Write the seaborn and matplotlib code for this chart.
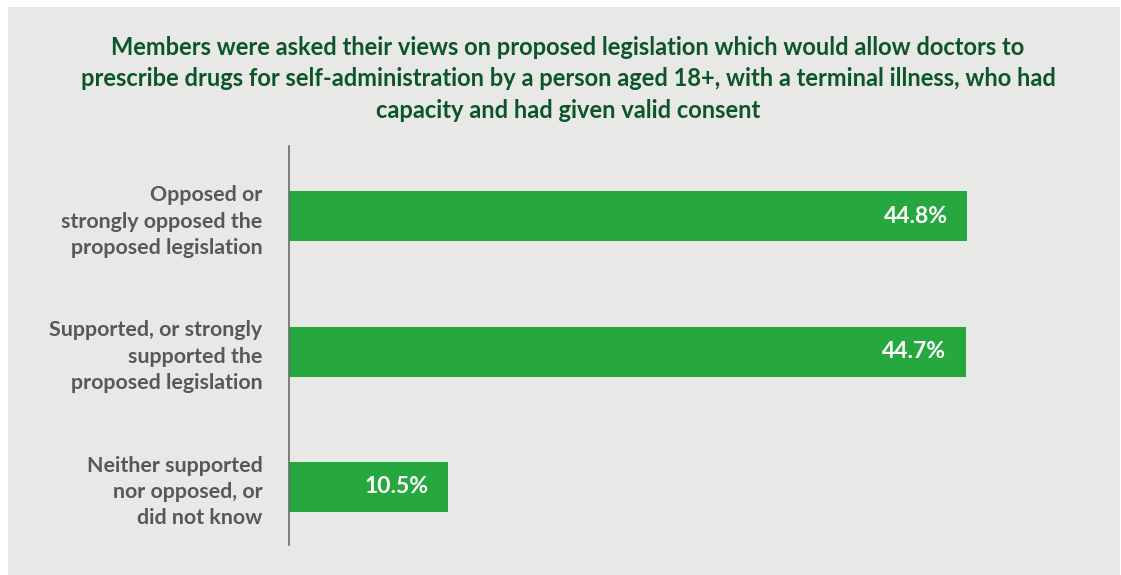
import matplotlib
matplotlib.use("Agg")
import matplotlib.pyplot as plt
from matplotlib.patches import Rectangle
import seaborn as sns
import pandas as pd

# Survey responses
categories = [
    "Opposed or\nstrongly opposed the\nproposed legislation",
    "Supported, or strongly\nsupported the\nproposed legislation",
    "Neither supported\nnor opposed, or\ndid not know",
]
shares = [44.8, 44.7, 10.5]
value_labels = ["44.8%", "44.7%", "10.5%"]

title = ("Members were asked their views on proposed legislation which would allow doctors to\n"
         "prescribe drugs for self-administration by a person aged 18+, with a terminal illness, who had\n"
         "capacity and had given valid consent")

BG = "#e8e8e6"
BAR = "#27a83e"
TITLE_C = "#0b5528"
LABEL_C = "#585858"

sns.set_theme(style="white")
plt.rcParams["font.family"] = ["Lato", "DejaVu Sans"]

df = pd.DataFrame({"category": categories, "share": shares})

fig = plt.figure(figsize=(11.21, 5.75), dpi=100)
fig.patch.set_facecolor("white")
fig.patches.append(Rectangle((8 / 1121, 0), 1112 / 1121, 568 / 575,
                             transform=fig.transFigure, facecolor=BG,
                             edgecolor="none", zorder=-10))

ax = fig.add_axes([289 / 1121, 1 - 545 / 575, (1046 - 289) / 1121, (545 - 146) / 575])
ax.set_facecolor("none")
sns.barplot(data=df, x="share", y="category", orient="h", color=BAR,
            saturation=1, width=0.37, linewidth=0, ax=ax)

ax.set_xlim(0, 50)
ax.set_ylim(2.43, -0.52)
ax.set_xlabel("")
ax.set_ylabel("")
ax.set_xticks([])
for s in ["top", "right", "bottom"]:
    ax.spines[s].set_visible(False)
ax.spines["left"].set_color("#6b6b6b")
ax.spines["left"].set_linewidth(1.2)
ax.tick_params(axis="y", length=0, pad=19)
for t in ax.get_yticklabels():
    t.set_fontsize(15.4)
    t.set_fontweight("bold")
    t.set_color(LABEL_C)
    t.set_horizontalalignment("right")
    t.set_multialignment("right")
    t.set_linespacing(1.4)

for i, (v, lab) in enumerate(zip(shares, value_labels)):
    ax.annotate(lab, xy=(v, i), xytext=(-14, 0), textcoords="offset points",
                ha="right", va="center", color="white", fontsize=16.5,
                fontweight="bold")

fig.text(568 / 1121, 1 - 79 / 575, title, ha="center", va="center",
         color=TITLE_C, fontsize=17, fontweight="bold", linespacing=1.45)

fig.savefig("out.png", dpi=100, facecolor=fig.get_facecolor())
